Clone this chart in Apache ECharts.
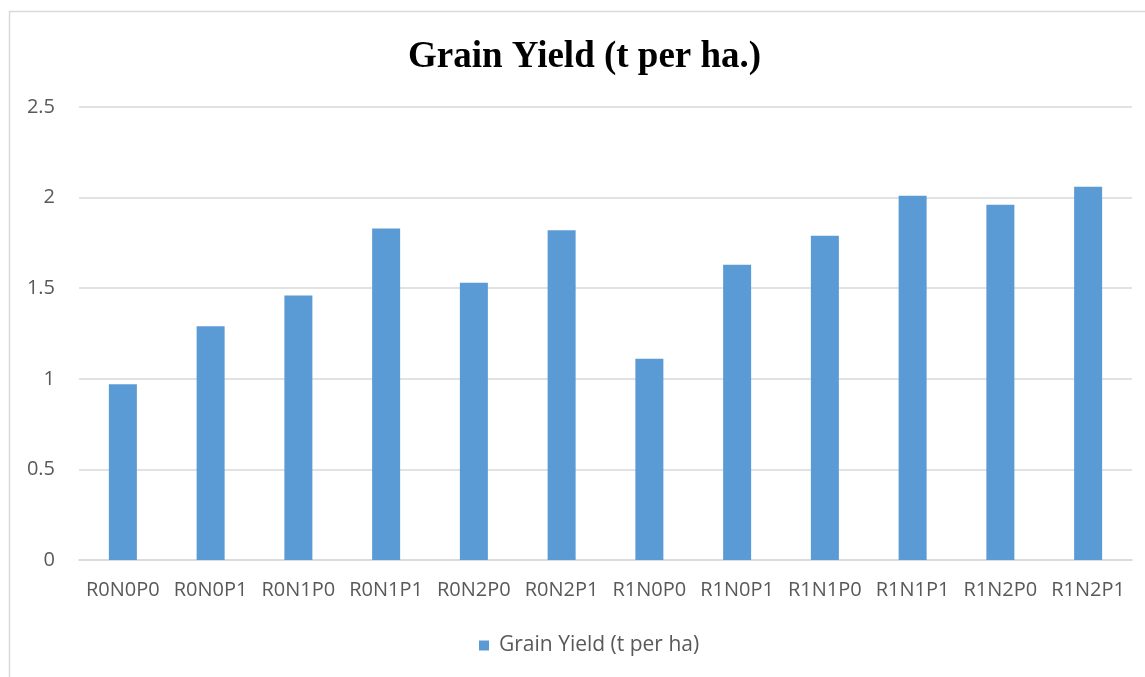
<!DOCTYPE html>
<html>
<head>
<meta charset="utf-8">
<script src="https://cdn.jsdelivr.net/npm/echarts@6/dist/echarts.min.js"></script>
<style>
  html, body { margin: 0; padding: 0; background: #fff; }
  #chart { width: 1145px; height: 677px; }
</style>
</head>
<body>
<div id="chart"></div>
<script>
// данные графика
const categories = ['R0N0P0', 'R0N0P1', 'R0N1P0', 'R0N1P1', 'R0N2P0', 'R0N2P1',
  'R1N0P0', 'R1N0P1', 'R1N1P0', 'R1N1P1', 'R1N2P0', 'R1N2P1'];
const grainYield = [0.97, 1.29, 1.46, 1.83, 1.53, 1.82, 1.11, 1.63, 1.79, 2.01, 1.96, 2.06];
const seriesName = 'Grain Yield (t per ha)';

const chart = echarts.init(document.getElementById('chart'));

const labelFont = '"Open Sans", "DejaVu Sans", sans-serif';

chart.setOption({
  backgroundColor: '#ffffff',
  animation: false,
  title: {
    text: 'Grain Yield (t per ha.)',
    left: 403,
    top: 34,
    textStyle: {
      fontFamily: '"Liberation Serif", "Times New Roman", serif',
      fontWeight: 'bold',
      fontSize: 37,
      color: '#000'
    }
  },
  graphic: [{
    type: 'rect',
    shape: { x: 9.5, y: 11.5, width: 1200, height: 700 },
    style: { fill: 'none', stroke: '#d9d9d9', lineWidth: 1.5 },
    silent: true
  }],
  legend: {
    bottom: 16,
    left: 474,
    itemWidth: 10,
    itemHeight: 10,
    itemGap: 10,
    icon: 'rect',
    textStyle: { fontFamily: labelFont, fontSize: 21, color: '#595959', padding: [0, 0, 0, 5] },
    data: [seriesName]
  },
  grid: { left: 79, right: 13, top: 107, bottom: 117 },
  xAxis: {
    type: 'category',
    data: categories,
    axisLine: { lineStyle: { color: '#d9d9d9', width: 1.5 } },
    axisTick: { show: false },
    axisLabel: { color: '#595959', fontFamily: labelFont, fontSize: 20, margin: 20, interval: 0 }
  },
  yAxis: {
    type: 'value',
    min: 0,
    max: 2.5,
    interval: 0.5,
    axisLine: { show: false },
    axisTick: { show: false },
    axisLabel: { color: '#595959', fontFamily: labelFont, fontSize: 20, margin: 24 },
    splitLine: { lineStyle: { color: '#d9d9d9', width: 1.5 } }
  },
  series: [{
    name: seriesName,
    type: 'bar',
    data: grainYield,
    barWidth: 28,
    itemStyle: { color: '#5b9bd5' }
  }]
});
</script>
</body>
</html>
